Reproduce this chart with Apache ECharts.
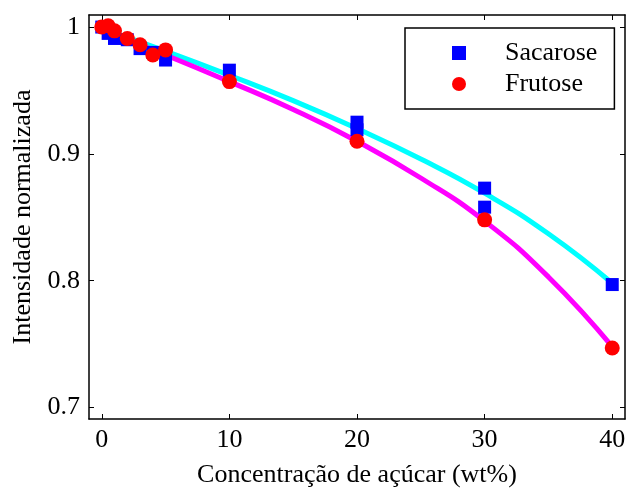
<!DOCTYPE html>
<html>
<head>
<meta charset="utf-8">
<script src="https://cdn.jsdelivr.net/npm/echarts@6/dist/echarts.min.js"></script>
</head>
<body style="margin:0;background:#fff">
<div id="main" style="width:629px;height:490px;"></div>
<script>
// medidas
const sacaroseX = [0, 0.5, 1, 2, 3, 4, 5, 10, 20, 20, 30, 30, 40];
const sacaroseY = [1.0, 0.995, 0.991, 0.990, 0.983, 0.980, 0.974, 0.966, 0.925, 0.919, 0.873, 0.858, 0.797];
const frutoseX = [0, 0.5, 1, 2, 3, 4, 5, 10, 20, 30, 40];
const frutoseY = [1.0, 1.001, 0.997, 0.991, 0.986, 0.978, 0.982, 0.957, 0.910, 0.848, 0.747];

// curvas de ajuste
const fitX = [0, 5, 10, 15, 20, 25, 30, 35, 40];
const fitSacarose = [0.999, 0.981, 0.962, 0.942, 0.920, 0.896, 0.869, 0.837, 0.798];
const fitFrutose = [0.998, 0.978, 0.957, 0.935, 0.910, 0.881, 0.847, 0.803, 0.748];

const xTicks = [0, 10, 20, 30, 40];
const yTicks = [0.7, 0.8, 0.9, 1];

const font = 'Liberation Serif';
const pairs = (xs, ys) => xs.map((x, i) => [x, ys[i]]);

const axisLine = { show: true, onZero: false, lineStyle: { color: '#000', width: 1.5 } };

const chart = echarts.init(document.getElementById('main'));
chart.setOption({
  animation: false,
  grid: { left: 89, right: 4, top: 15, bottom: 71, outerBoundsMode: 'none' },
  legend: {
    data: ['Sacarose', 'Frutose'],
    orient: 'vertical',
    left: 405,
    top: 28,
    padding: [12, 17, 12, 47],
    itemGap: 5,
    itemWidth: 14,
    itemHeight: 14,
    borderColor: '#000',
    borderWidth: 1.5,
    backgroundColor: '#fff',
    textStyle: { fontFamily: font, fontSize: 26, color: '#000', lineHeight: 22, padding: [0, 0, 0, 34] }
  },
  xAxis: [{
    type: 'value', min: -1, max: 41,
    name: 'Concentração de açúcar (wt%)', nameLocation: 'middle', nameGap: 43,
    nameTextStyle: { fontFamily: font, fontSize: 26, color: '#000' },
    axisLine: axisLine,
    axisTick: { inside: true, length: 5, customValues: xTicks, lineStyle: { color: '#000' } },
    axisLabel: { customValues: xTicks, fontFamily: font, fontSize: 26, color: '#000', margin: 8 },
    splitLine: { show: false }
  }, {
    type: 'value', min: -1, max: 41, position: 'top',
    axisLine: axisLine,
    axisTick: { inside: true, length: 5, customValues: xTicks, lineStyle: { color: '#000' } },
    axisLabel: { show: false },
    splitLine: { show: false }
  }],
  yAxis: [{
    type: 'value', min: 0.691, max: 1.0095,
    name: 'Intensidade normalizada', nameLocation: 'middle', nameGap: 46,
    nameTextStyle: { fontFamily: font, fontSize: 26, color: '#000' },
    axisLine: axisLine,
    axisTick: { inside: true, length: 5, customValues: yTicks, lineStyle: { color: '#000' } },
    axisLabel: { customValues: yTicks, fontFamily: font, fontSize: 26, color: '#000', margin: 9 },
    splitLine: { show: false }
  }, {
    type: 'value', min: 0.691, max: 1.0095, position: 'right',
    axisLine: axisLine,
    axisTick: { inside: true, length: 5, customValues: yTicks, lineStyle: { color: '#000' } },
    axisLabel: { show: false },
    splitLine: { show: false }
  }],
  series: [
    {
      name: 'Ajuste sacarose', type: 'line', smooth: 0.5, showSymbol: false,
      data: pairs(fitX, fitSacarose),
      lineStyle: { color: '#00ffff', width: 5 }, z: 1
    },
    {
      name: 'Ajuste frutose', type: 'line', smooth: 0.5, showSymbol: false,
      data: pairs(fitX, fitFrutose),
      lineStyle: { color: '#ff00ff', width: 5 }, z: 2
    },
    {
      name: 'Sacarose', type: 'scatter', symbol: 'rect', symbolSize: 13,
      data: pairs(sacaroseX, sacaroseY),
      itemStyle: { color: '#0000ff', opacity: 1 }, z: 3
    },
    {
      name: 'Frutose', type: 'scatter', symbol: 'circle', symbolSize: 15,
      data: pairs(frutoseX, frutoseY),
      itemStyle: { color: '#ff0000', opacity: 1 }, z: 4
    }
  ]
});
</script>
</body>
</html>
